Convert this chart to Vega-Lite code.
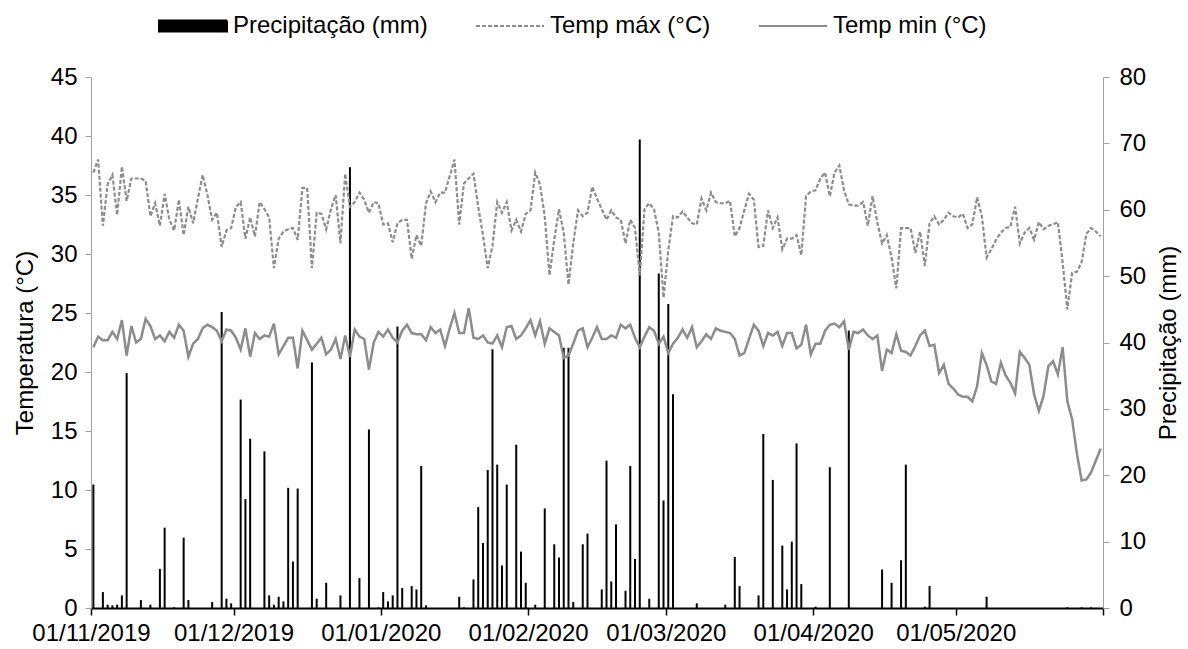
{
  "$schema": "https://vega.github.io/schema/vega-lite/v6.json",
  "width": 1012,
  "height": 531,
  "autosize": {"type": "none"},
  "padding": {"left": 91, "top": 77, "right": 85, "bottom": 41},
  "background": "white",
  "config": {
    "font": "Liberation Sans",
    "view": {"stroke": null},
    "axis": {"grid": false, "labelFont": "Liberation Sans", "labelFontSize": 24, "labelColor": "black", "titleFont": "Liberation Sans", "titleFontSize": 24, "titleFontWeight": "normal", "titleColor": "black"}
  },
  "data": {"values": [
{"date":"2019-11-01","p":18.6,"tmax":36.9,"tmin":22.1},
{"date":"2019-11-02","p":0,"tmax":38.0,"tmin":23.0},
{"date":"2019-11-03","p":2.4,"tmax":32.4,"tmin":22.7},
{"date":"2019-11-04","p":0.5,"tmax":35.9,"tmin":22.7},
{"date":"2019-11-05","p":0.4,"tmax":36.7,"tmin":23.4},
{"date":"2019-11-06","p":0.5,"tmax":33.3,"tmin":22.8},
{"date":"2019-11-07","p":1.9,"tmax":37.4,"tmin":24.4},
{"date":"2019-11-08","p":35.4,"tmax":34.5,"tmin":21.4},
{"date":"2019-11-09","p":0,"tmax":36.4,"tmin":23.9},
{"date":"2019-11-10","p":0,"tmax":36.4,"tmin":22.5},
{"date":"2019-11-11","p":1.2,"tmax":36.4,"tmin":22.8},
{"date":"2019-11-12","p":0,"tmax":36.2,"tmin":24.5},
{"date":"2019-11-13","p":0.5,"tmax":33.2,"tmin":23.9},
{"date":"2019-11-14","p":0,"tmax":34.3,"tmin":22.8},
{"date":"2019-11-15","p":5.9,"tmax":32.4,"tmin":23.1},
{"date":"2019-11-16","p":12.1,"tmax":35.1,"tmin":22.6},
{"date":"2019-11-17","p":0,"tmax":32.9,"tmin":23.4},
{"date":"2019-11-18","p":0.1,"tmax":32.0,"tmin":22.9},
{"date":"2019-11-19","p":0,"tmax":34.6,"tmin":24.0},
{"date":"2019-11-20","p":10.6,"tmax":31.6,"tmin":23.5},
{"date":"2019-11-21","p":1.2,"tmax":34.0,"tmin":21.3},
{"date":"2019-11-22","p":0,"tmax":32.6,"tmin":22.4},
{"date":"2019-11-23","p":0,"tmax":34.7,"tmin":22.8},
{"date":"2019-11-24","p":0,"tmax":36.7,"tmin":23.7},
{"date":"2019-11-25","p":0,"tmax":35.0,"tmin":24.0},
{"date":"2019-11-26","p":0.9,"tmax":32.9,"tmin":23.8},
{"date":"2019-11-27","p":0,"tmax":33.5,"tmin":23.5},
{"date":"2019-11-28","p":44.6,"tmax":30.6,"tmin":22.6},
{"date":"2019-11-29","p":1.4,"tmax":32.0,"tmin":23.6},
{"date":"2019-11-30","p":0.7,"tmax":32.2,"tmin":23.5},
{"date":"2019-12-01","p":0,"tmax":34.0,"tmin":22.9},
{"date":"2019-12-02","p":31.4,"tmax":34.4,"tmin":21.9},
{"date":"2019-12-03","p":16.4,"tmax":31.3,"tmin":23.7},
{"date":"2019-12-04","p":25.5,"tmax":33.1,"tmin":21.3},
{"date":"2019-12-05","p":0,"tmax":31.5,"tmin":23.3},
{"date":"2019-12-06","p":0,"tmax":34.4,"tmin":22.8},
{"date":"2019-12-07","p":23.6,"tmax":33.8,"tmin":23.1},
{"date":"2019-12-08","p":1.9,"tmax":33.1,"tmin":23.0},
{"date":"2019-12-09","p":0.5,"tmax":28.8,"tmin":24.1},
{"date":"2019-12-10","p":1.7,"tmax":31.3,"tmin":21.5},
{"date":"2019-12-11","p":1.0,"tmax":31.9,"tmin":22.2},
{"date":"2019-12-12","p":18.1,"tmax":32.1,"tmin":22.9},
{"date":"2019-12-13","p":7.0,"tmax":32.2,"tmin":22.9},
{"date":"2019-12-14","p":18.0,"tmax":31.2,"tmin":20.3},
{"date":"2019-12-15","p":0,"tmax":35.6,"tmin":23.5},
{"date":"2019-12-16","p":0,"tmax":35.6,"tmin":22.7},
{"date":"2019-12-17","p":37.0,"tmax":28.8,"tmin":21.9},
{"date":"2019-12-18","p":1.4,"tmax":33.5,"tmin":22.4},
{"date":"2019-12-19","p":0,"tmax":33.4,"tmin":22.9},
{"date":"2019-12-20","p":3.8,"tmax":32.1,"tmin":21.5},
{"date":"2019-12-21","p":0,"tmax":33.8,"tmin":21.9},
{"date":"2019-12-22","p":0,"tmax":35.0,"tmin":22.8},
{"date":"2019-12-23","p":1.9,"tmax":30.9,"tmin":21.1},
{"date":"2019-12-24","p":0,"tmax":36.8,"tmin":23.1},
{"date":"2019-12-25","p":66.4,"tmax":34.0,"tmin":21.3},
{"date":"2019-12-26","p":0,"tmax":34.4,"tmin":23.6},
{"date":"2019-12-27","p":4.5,"tmax":35.2,"tmin":23.0},
{"date":"2019-12-28","p":0,"tmax":34.6,"tmin":22.8},
{"date":"2019-12-29","p":26.9,"tmax":33.5,"tmin":20.2},
{"date":"2019-12-30","p":0,"tmax":34.4,"tmin":22.5},
{"date":"2019-12-31","p":0.1,"tmax":34.3,"tmin":23.4},
{"date":"2020-01-01","p":2.4,"tmax":32.5,"tmin":23.0},
{"date":"2020-01-02","p":1.0,"tmax":32.6,"tmin":23.6},
{"date":"2020-01-03","p":1.9,"tmax":31.0,"tmin":22.9},
{"date":"2020-01-04","p":42.4,"tmax":32.6,"tmin":22.5},
{"date":"2020-01-05","p":3.0,"tmax":32.9,"tmin":23.5},
{"date":"2020-01-06","p":0,"tmax":32.9,"tmin":24.0},
{"date":"2020-01-07","p":3.3,"tmax":29.6,"tmin":23.3},
{"date":"2020-01-08","p":2.8,"tmax":31.6,"tmin":23.2},
{"date":"2020-01-09","p":21.4,"tmax":30.7,"tmin":23.2},
{"date":"2020-01-10","p":0.4,"tmax":34.3,"tmin":22.7},
{"date":"2020-01-11","p":0,"tmax":35.3,"tmin":23.8},
{"date":"2020-01-12","p":0,"tmax":34.4,"tmin":23.3},
{"date":"2020-01-13","p":0,"tmax":35.2,"tmin":23.6},
{"date":"2020-01-14","p":0,"tmax":35.2,"tmin":22.2},
{"date":"2020-01-15","p":0,"tmax":36.6,"tmin":23.7},
{"date":"2020-01-16","p":0,"tmax":38.0,"tmin":25.0},
{"date":"2020-01-17","p":1.7,"tmax":32.5,"tmin":23.3},
{"date":"2020-01-18","p":0.1,"tmax":36.0,"tmin":23.3},
{"date":"2020-01-19","p":0,"tmax":36.4,"tmin":25.4},
{"date":"2020-01-20","p":4.3,"tmax":36.8,"tmin":22.9},
{"date":"2020-01-21","p":15.2,"tmax":34.0,"tmin":22.8},
{"date":"2020-01-22","p":9.8,"tmax":31.6,"tmin":23.1},
{"date":"2020-01-23","p":20.8,"tmax":28.8,"tmin":22.5},
{"date":"2020-01-24","p":39.0,"tmax":30.7,"tmin":22.4},
{"date":"2020-01-25","p":21.6,"tmax":34.4,"tmin":23.1},
{"date":"2020-01-26","p":6.4,"tmax":33.5,"tmin":22.1},
{"date":"2020-01-27","p":18.6,"tmax":34.4,"tmin":23.8},
{"date":"2020-01-28","p":0,"tmax":32.0,"tmin":23.9},
{"date":"2020-01-29","p":24.6,"tmax":32.9,"tmin":22.8},
{"date":"2020-01-30","p":8.5,"tmax":31.9,"tmin":23.1},
{"date":"2020-01-31","p":3.8,"tmax":33.4,"tmin":23.7},
{"date":"2020-02-01","p":0,"tmax":33.7,"tmin":24.4},
{"date":"2020-02-02","p":0.5,"tmax":36.9,"tmin":23.1},
{"date":"2020-02-03","p":0,"tmax":35.9,"tmin":24.3},
{"date":"2020-02-04","p":15.0,"tmax":33.2,"tmin":22.4},
{"date":"2020-02-05","p":0,"tmax":28.2,"tmin":23.7},
{"date":"2020-02-06","p":9.6,"tmax":31.2,"tmin":23.4},
{"date":"2020-02-07","p":7.6,"tmax":33.8,"tmin":23.1},
{"date":"2020-02-08","p":39.2,"tmax":31.8,"tmin":21.2},
{"date":"2020-02-09","p":39.2,"tmax":27.4,"tmin":21.4},
{"date":"2020-02-10","p":0.9,"tmax":30.9,"tmin":22.4},
{"date":"2020-02-11","p":0,"tmax":33.7,"tmin":23.5},
{"date":"2020-02-12","p":9.6,"tmax":33.2,"tmin":23.7},
{"date":"2020-02-13","p":11.2,"tmax":33.5,"tmin":22.1},
{"date":"2020-02-14","p":0,"tmax":35.7,"tmin":22.9},
{"date":"2020-02-15","p":0,"tmax":34.7,"tmin":23.8},
{"date":"2020-02-16","p":2.8,"tmax":33.8,"tmin":22.8},
{"date":"2020-02-17","p":22.2,"tmax":32.9,"tmin":22.8},
{"date":"2020-02-18","p":4.0,"tmax":33.7,"tmin":23.1},
{"date":"2020-02-19","p":12.6,"tmax":33.1,"tmin":22.9},
{"date":"2020-02-20","p":0,"tmax":32.9,"tmin":24.0},
{"date":"2020-02-21","p":2.6,"tmax":30.9,"tmin":23.7},
{"date":"2020-02-22","p":21.4,"tmax":32.9,"tmin":24.0},
{"date":"2020-02-23","p":7.4,"tmax":32.2,"tmin":22.9},
{"date":"2020-02-24","p":70.6,"tmax":28.2,"tmin":22.1},
{"date":"2020-02-25","p":0,"tmax":33.8,"tmin":23.0},
{"date":"2020-02-26","p":1.4,"tmax":34.3,"tmin":23.8},
{"date":"2020-02-27","p":0,"tmax":33.8,"tmin":23.5},
{"date":"2020-02-28","p":50.4,"tmax":31.8,"tmin":22.4},
{"date":"2020-02-29","p":16.2,"tmax":26.3,"tmin":23.0},
{"date":"2020-03-01","p":45.8,"tmax":30.3,"tmin":21.6},
{"date":"2020-03-02","p":32.2,"tmax":33.2,"tmin":22.4},
{"date":"2020-03-03","p":0,"tmax":33.1,"tmin":22.9},
{"date":"2020-03-04","p":0,"tmax":33.6,"tmin":23.6},
{"date":"2020-03-05","p":0,"tmax":33.1,"tmin":22.9},
{"date":"2020-03-06","p":0,"tmax":32.6,"tmin":23.8},
{"date":"2020-03-07","p":0.7,"tmax":32.5,"tmin":22.1},
{"date":"2020-03-08","p":0,"tmax":34.7,"tmin":22.6},
{"date":"2020-03-09","p":0,"tmax":33.7,"tmin":23.2},
{"date":"2020-03-10","p":0,"tmax":35.2,"tmin":22.8},
{"date":"2020-03-11","p":0,"tmax":34.4,"tmin":23.7},
{"date":"2020-03-12","p":0,"tmax":34.3,"tmin":23.5},
{"date":"2020-03-13","p":0.5,"tmax":34.3,"tmin":23.4},
{"date":"2020-03-14","p":0,"tmax":34.5,"tmin":23.3},
{"date":"2020-03-15","p":7.7,"tmax":31.5,"tmin":22.8},
{"date":"2020-03-16","p":3.3,"tmax":32.2,"tmin":21.4},
{"date":"2020-03-17","p":0,"tmax":33.7,"tmin":21.6},
{"date":"2020-03-18","p":0,"tmax":35.1,"tmin":22.8},
{"date":"2020-03-19","p":0,"tmax":34.6,"tmin":24.0},
{"date":"2020-03-20","p":1.9,"tmax":30.6,"tmin":23.5},
{"date":"2020-03-21","p":26.2,"tmax":30.7,"tmin":22.2},
{"date":"2020-03-22","p":0,"tmax":33.7,"tmin":23.3},
{"date":"2020-03-23","p":19.3,"tmax":32.2,"tmin":23.1},
{"date":"2020-03-24","p":0,"tmax":33.1,"tmin":23.4},
{"date":"2020-03-25","p":9.4,"tmax":30.4,"tmin":22.2},
{"date":"2020-03-26","p":2.8,"tmax":31.3,"tmin":23.3},
{"date":"2020-03-27","p":10.0,"tmax":31.3,"tmin":23.3},
{"date":"2020-03-28","p":24.8,"tmax":31.6,"tmin":22.0},
{"date":"2020-03-29","p":3.6,"tmax":29.9,"tmin":22.3},
{"date":"2020-03-30","p":0,"tmax":34.9,"tmin":24.0},
{"date":"2020-03-31","p":0,"tmax":35.3,"tmin":21.5},
{"date":"2020-04-01","p":0.2,"tmax":35.4,"tmin":22.4},
{"date":"2020-04-02","p":0,"tmax":36.4,"tmin":22.4},
{"date":"2020-04-03","p":0,"tmax":36.9,"tmin":23.5},
{"date":"2020-04-04","p":21.2,"tmax":34.9,"tmin":24.0},
{"date":"2020-04-05","p":0,"tmax":36.9,"tmin":24.1},
{"date":"2020-04-06","p":0,"tmax":37.5,"tmin":23.8},
{"date":"2020-04-07","p":0,"tmax":35.4,"tmin":24.3},
{"date":"2020-04-08","p":41.8,"tmax":34.2,"tmin":21.9},
{"date":"2020-04-09","p":0,"tmax":34.1,"tmin":23.4},
{"date":"2020-04-10","p":0,"tmax":34.1,"tmin":23.3},
{"date":"2020-04-11","p":0,"tmax":34.4,"tmin":23.6},
{"date":"2020-04-12","p":0,"tmax":32.4,"tmin":23.1},
{"date":"2020-04-13","p":0,"tmax":34.9,"tmin":22.8},
{"date":"2020-04-14","p":0,"tmax":32.7,"tmin":23.1},
{"date":"2020-04-15","p":5.8,"tmax":30.9,"tmin":20.1},
{"date":"2020-04-16","p":0,"tmax":31.6,"tmin":21.9},
{"date":"2020-04-17","p":3.8,"tmax":29.7,"tmin":21.6},
{"date":"2020-04-18","p":0,"tmax":27.1,"tmin":23.2},
{"date":"2020-04-19","p":7.2,"tmax":32.2,"tmin":21.8},
{"date":"2020-04-20","p":21.6,"tmax":32.2,"tmin":21.7},
{"date":"2020-04-21","p":0,"tmax":32.2,"tmin":21.4},
{"date":"2020-04-22","p":0,"tmax":30.1,"tmin":22.2},
{"date":"2020-04-23","p":0,"tmax":31.9,"tmin":23.1},
{"date":"2020-04-24","p":0.2,"tmax":29.0,"tmin":23.5},
{"date":"2020-04-25","p":3.3,"tmax":32.6,"tmin":22.2},
{"date":"2020-04-26","p":0,"tmax":33.2,"tmin":22.3},
{"date":"2020-04-27","p":0,"tmax":32.5,"tmin":19.9},
{"date":"2020-04-28","p":0,"tmax":32.9,"tmin":20.6},
{"date":"2020-04-29","p":0,"tmax":33.5,"tmin":19.0},
{"date":"2020-04-30","p":0,"tmax":33.2,"tmin":18.6},
{"date":"2020-05-01","p":0,"tmax":33.1,"tmin":18.1},
{"date":"2020-05-02","p":0,"tmax":33.4,"tmin":17.9},
{"date":"2020-05-03","p":0,"tmax":32.2,"tmin":17.9},
{"date":"2020-05-04","p":0,"tmax":32.5,"tmin":17.5},
{"date":"2020-05-05","p":0,"tmax":34.8,"tmin":18.8},
{"date":"2020-05-06","p":0,"tmax":33.2,"tmin":21.6},
{"date":"2020-05-07","p":1.7,"tmax":29.7,"tmin":20.6},
{"date":"2020-05-08","p":0,"tmax":30.4,"tmin":19.2},
{"date":"2020-05-09","p":0,"tmax":31.2,"tmin":19.0},
{"date":"2020-05-10","p":0,"tmax":31.8,"tmin":20.8},
{"date":"2020-05-11","p":0,"tmax":32.2,"tmin":19.7},
{"date":"2020-05-12","p":0,"tmax":32.3,"tmin":19.1},
{"date":"2020-05-13","p":0,"tmax":34.0,"tmin":18.2},
{"date":"2020-05-14","p":0,"tmax":30.9,"tmin":21.7},
{"date":"2020-05-15","p":0,"tmax":31.8,"tmin":21.2},
{"date":"2020-05-16","p":0,"tmax":32.2,"tmin":20.6},
{"date":"2020-05-17","p":0,"tmax":31.2,"tmin":18.1},
{"date":"2020-05-18","p":0,"tmax":32.7,"tmin":16.7},
{"date":"2020-05-19","p":0,"tmax":32.1,"tmin":18.0},
{"date":"2020-05-20","p":0,"tmax":32.4,"tmin":20.5},
{"date":"2020-05-21","p":0,"tmax":32.5,"tmin":20.9},
{"date":"2020-05-22","p":0,"tmax":32.7,"tmin":19.8},
{"date":"2020-05-23","p":0,"tmax":29.3,"tmin":22.1},
{"date":"2020-05-24","p":0.1,"tmax":25.3,"tmin":17.5},
{"date":"2020-05-25","p":0,"tmax":28.4,"tmin":16.0},
{"date":"2020-05-26","p":0,"tmax":28.5,"tmin":13.1},
{"date":"2020-05-27","p":0.1,"tmax":29.3,"tmin":10.8},
{"date":"2020-05-28","p":0,"tmax":31.7,"tmin":10.9},
{"date":"2020-05-29","p":0.1,"tmax":32.2,"tmin":11.5},
{"date":"2020-05-30","p":0,"tmax":31.9,"tmin":12.5},
{"date":"2020-05-31","p":0,"tmax":31.5,"tmin":13.5}
  ]},
  "layer": [
    {
      "mark": {"type": "bar", "color": "black", "width": 2},
      "encoding": {
        "x": {
          "field": "date", "type": "temporal", "timeUnit": "utcyearmonthdate", "bandPosition": 0.5,
          "scale": {"type": "utc", "domain": [{"year": 2019, "month": 11, "date": 1, "utc": true}, {"year": 2020, "month": 6, "date": 1, "utc": true}]},
          "axis": {
            "title": null,
            "values": [
              {"year": 2019, "month": 11, "date": 1, "utc": true},
              {"year": 2019, "month": 12, "date": 1, "utc": true},
              {"year": 2020, "month": 1, "date": 1, "utc": true},
              {"year": 2020, "month": 2, "date": 1, "utc": true},
              {"year": 2020, "month": 3, "date": 1, "utc": true},
              {"year": 2020, "month": 4, "date": 1, "utc": true},
              {"year": 2020, "month": 5, "date": 1, "utc": true},
              {"year": 2020, "month": 6, "date": 1, "utc": true}
            ],
            "labelExpr": "utcmonth(datum.value) == 5 ? '' : utcFormat(datum.value, '%d/%m/%Y')",
            "domainColor": "black", "domainWidth": 2, "tickColor": "black", "tickWidth": 1.5, "tickSize": 7, "labelPadding": 6, "labelFlush": false, "labelOverlap": false
          }
        },
        "y": {
          "field": "p", "type": "quantitative", "scale": {"domain": [0, 80], "nice": false},
          "axis": {"orient": "right", "title": "Precipitação (mm)", "titleAngle": 270, "titleBaseline": "top", "titlePadding": 11, "values": [0, 10, 20, 30, 40, 50, 60, 70, 80], "domainColor": "#a0a0a0", "tickColor": "#a0a0a0", "tickSize": 6, "labelPadding": 10}
        },
        "color": {
          "datum": "Precipitação (mm)", "type": "nominal",
          "scale": {"domain": ["Precipitação (mm)", "Temp máx (°C)", "Temp min (°C)"], "range": ["black", "#8c8c8c", "#8c8c8c"]},
          "legend": {
            "orient": "none", "legendX": 67, "legendY": -86, "direction": "horizontal", "title": null,
            "labelFontSize": 24, "labelFont": "Liberation Sans", "labelColor": "black", "labelLimit": 0,
            "symbolSize": 4624, "labelOffset": 5, "columnPadding": 44, "symbolStrokeWidth": 2,
            "encode": {
              "symbols": {
                "update": {
                  "shape": {"signal": "datum.value === 'Precipitação (mm)' ? 'M-1,-0.16H1V0.16H-1Z' : 'M-1,0H1'"},
                  "fill": {"signal": "datum.value === 'Precipitação (mm)' ? 'black' : 'transparent'"},
                  "stroke": {"signal": "datum.value === 'Precipitação (mm)' ? 'black' : '#8c8c8c'"},
                  "strokeDash": {"signal": "datum.value === 'Temp máx (°C)' ? [4, 2] : [1, 0]"},
                  "strokeWidth": {"value": 2},
                  "opacity": {"value": 1}
                }
              }
            }
          }
        }
      }
    },
    {
      "layer": [
        {
          "mark": {"type": "line", "strokeWidth": 2.2, "strokeDash": [4, 2]},
          "encoding": {
            "x": {"field": "date", "type": "temporal", "timeUnit": "utcyearmonthdate", "bandPosition": 0.5},
            "y": {"field": "tmax", "type": "quantitative"},
            "color": {"datum": "Temp máx (°C)", "type": "nominal"}
          }
        },
        {
          "mark": {"type": "line", "strokeWidth": 2.5},
          "encoding": {
            "x": {"field": "date", "type": "temporal", "timeUnit": "utcyearmonthdate", "bandPosition": 0.5},
            "y": {
              "field": "tmin", "type": "quantitative", "scale": {"domain": [0, 45], "nice": false},
              "axis": {"orient": "left", "title": "Temperatura (°C)", "titlePadding": 13, "values": [0, 5, 10, 15, 20, 25, 30, 35, 40, 45], "domainColor": "#a0a0a0", "tickColor": "#a0a0a0", "tickSize": 6, "labelPadding": 8}
            },
            "color": {"datum": "Temp min (°C)", "type": "nominal"}
          }
        }
      ]
    }
  ],
  "resolve": {"scale": {"y": "independent"}}
}
